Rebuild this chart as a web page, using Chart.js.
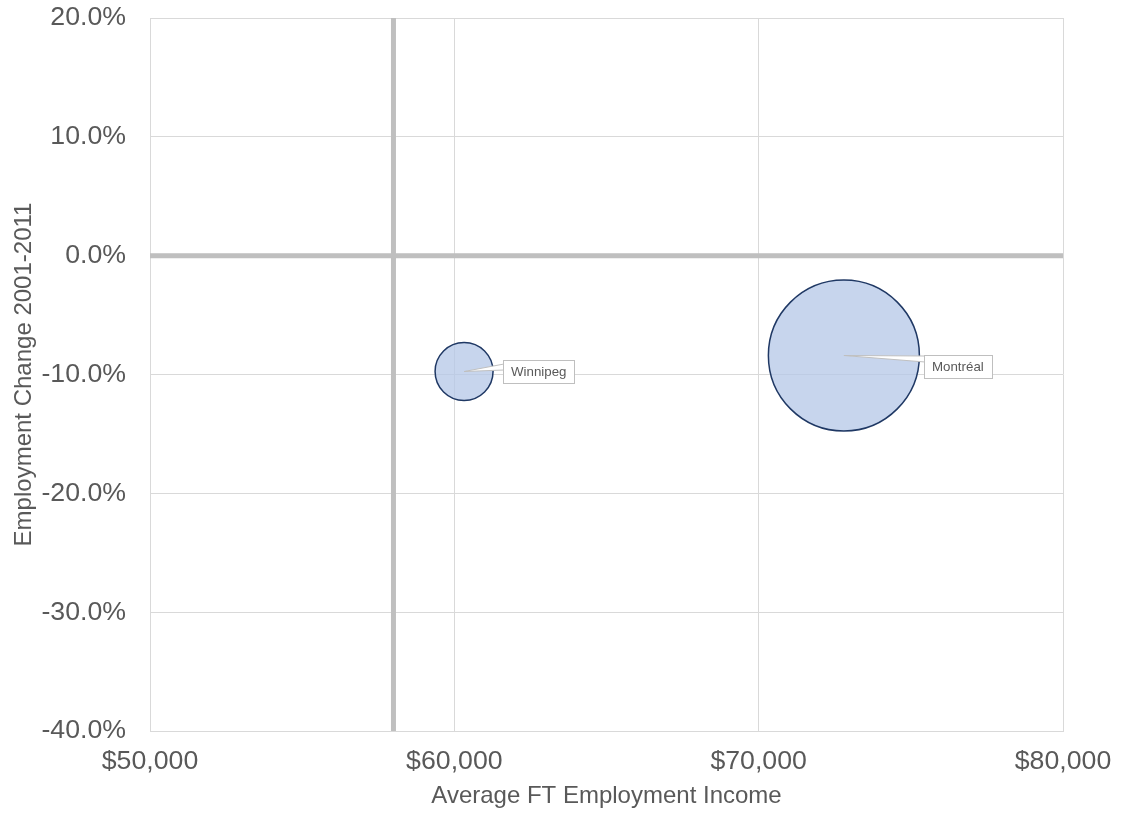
<!DOCTYPE html>
<html>
<head>
<meta charset="utf-8">
<script src="https://cdn.jsdelivr.net/npm/chart.js@4.4.1/dist/chart.umd.min.js"></script>
<style>
  html, body { margin: 0; padding: 0; background: #fff; }
  #wrap { width: 1129px; height: 813px; }
</style>
</head>
<body>
<div id="wrap"><canvas id="chart" width="1129" height="813"></canvas></div>
<script>
// data
const cities = ['Winnipeg', 'Montréal'];
const avgIncome = [60320, 72800];        // Average FT employment income ($)
const empChange = [-9.75, -8.4];         // Employment change 2001-2011 (%)
const bubbleSize = [280, 1900];          // relative bubble size (area)
const xTicks = [50000, 60000, 70000, 80000];
const yTicks = [20, 10, 0, -10, -20, -30, -40];
const refIncome = 58000;                 // vertical reference line
const refChange = 0;                     // horizontal reference line

const MAX_R = 75.5;
const maxSize = Math.max(...bubbleSize);

const grey = '#595959';
const font = 'Liberation Sans, Arial, sans-serif';

// thick grey quadrant lines
const refLines = {
    id: 'refLines',
    beforeDatasetsDraw(chart) {
        const { ctx, chartArea, scales } = chart;
        const x = scales.x.getPixelForValue(refIncome);
        const y = scales.y.getPixelForValue(refChange);
        ctx.save();
        ctx.strokeStyle = '#bfbfbf';
        ctx.lineWidth = 5;
        ctx.beginPath();
        ctx.moveTo(x, chartArea.top);
        ctx.lineTo(x, chartArea.bottom);
        ctx.moveTo(chartArea.left, y);
        ctx.lineTo(chartArea.right, y);
        ctx.stroke();
        ctx.restore();
    }
};

// callout labels with a little wedge pointing at the bubble centre
const callouts = {
    id: 'callouts',
    afterDatasetsDraw(chart, args, opts) {
        const { ctx } = chart;
        const meta = chart.getDatasetMeta(0);
        ctx.save();
        ctx.font = '13.3px ' + font;
        meta.data.forEach((pt, i) => {
            const off = opts.offsets[i];
            const text = cities[i];
            const w = Math.round(ctx.measureText(text).width + 16);
            const h = 23;
            const bx = Math.round(pt.x + off.dx);
            const by = Math.round(pt.y + off.dy);
            const wy = by + off.wedge;
            // wedge
            ctx.beginPath();
            ctx.moveTo(pt.x, pt.y);
            ctx.lineTo(bx + 1, wy);
            ctx.lineTo(bx + 1, wy + 6);
            ctx.closePath();
            ctx.fillStyle = '#ffffff';
            ctx.fill();
            ctx.strokeStyle = '#bfbfbf';
            ctx.lineWidth = 1;
            ctx.stroke();
            // box
            ctx.fillStyle = '#ffffff';
            ctx.fillRect(bx, by, w, h);
            ctx.strokeRect(bx + 0.5, by + 0.5, w, h);
            ctx.fillStyle = grey;
            ctx.textBaseline = 'middle';
            ctx.textAlign = 'left';
            ctx.fillText(text, bx + 8, by + h / 2 + 1);
        });
        ctx.restore();
    }
};

const ctx = document.getElementById('chart').getContext('2d');
new Chart(ctx, {
    type: 'bubble',
    data: {
        datasets: [{
            label: 'Cities',
            data: cities.map((c, i) => ({
                x: avgIncome[i],
                y: empChange[i],
                r: MAX_R * Math.sqrt(bubbleSize[i] / maxSize)
            })),
            backgroundColor: 'rgba(180, 199, 231, 0.75)',
            borderColor: '#1f3864',
            borderWidth: 1.5,
            hoverRadius: 0
        }]
    },
    plugins: [refLines, callouts],
    options: {
        responsive: false,
        animation: false,
        layout: { autoPadding: false, padding: { top: 18, right: 66, left: 0, bottom: 0 } },
        plugins: {
            legend: { display: false },
            tooltip: { enabled: false },
            callouts: {
                offsets: [
                    { dx: 39, dy: -12, wedge: 4 },
                    { dx: 80, dy: 0, wedge: 1 }
                ]
            }
        },
        scales: {
            x: {
                type: 'linear',
                min: 50000,
                max: 80000,
                afterBuildTicks: s => { s.ticks = xTicks.map(v => ({ value: v })); },
                afterFit: s => { s.height = 82; s.paddingLeft = 0; s.paddingRight = 0; },
                grid: { color: '#d9d9d9', drawTicks: false },
                border: { color: '#d9d9d9' },
                ticks: {
                    padding: 15,
                    color: grey,
                    font: { family: font, size: 26.7 },
                    maxRotation: 0,
                    callback: v => '$' + v.toLocaleString('en-US')
                },
                title: {
                    display: true,
                    text: 'Average FT Employment Income',
                    color: grey,
                    font: { family: font, size: 24 },
                    padding: { top: 2, bottom: 2 }
                }
            },
            y: {
                type: 'linear',
                min: -40,
                max: 20,
                afterBuildTicks: s => { s.ticks = yTicks.map(v => ({ value: v })); },
                afterFit: s => { s.width = 150; s.paddingTop = 0; s.paddingBottom = 0; },
                grid: { color: '#d9d9d9', drawTicks: false },
                border: { color: '#d9d9d9' },
                ticks: {
                    padding: 24,
                    color: grey,
                    font: { family: font, size: 26.7 },
                    callback: v => v.toFixed(1) + '%'
                },
                title: {
                    display: true,
                    text: 'Employment Change 2001-2011',
                    color: grey,
                    font: { family: font, size: 24 },
                    padding: { top: 10, bottom: 0 }
                }
            }
        }
    }
});
</script>
</body>
</html>
